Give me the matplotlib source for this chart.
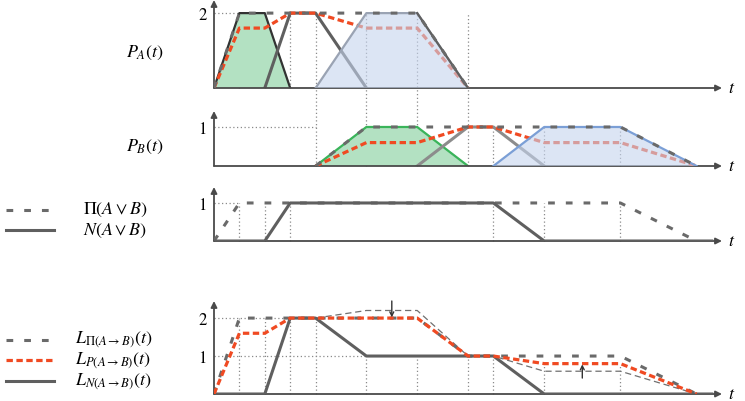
import matplotlib
matplotlib.use("Agg")
import matplotlib.pyplot as plt
from matplotlib.lines import Line2D

plt.rcParams['mathtext.fontset'] = 'stix'
plt.rcParams['font.family'] = 'STIXGeneral'

# ---- data (t, value) ----
# panel A : P_A(t)
a_green_t = [0, 1, 2, 3];   a_green_v = [0, 2, 2, 0]
a_mid_t = [2, 3, 4, 6];     a_mid_v = [0, 2, 2, 0]
a_blue_t = [4, 6, 8, 10];   a_blue_v = [0, 2, 2, 0]
a_pi_t = [0, 1, 8, 10];     a_pi_v = [0, 2, 2, 0]
a_p_t = [0, 1, 2, 3, 4, 6, 8, 10]
a_p_v = [0, 1.6, 1.6, 2, 2, 1.6, 1.6, 0]

# panel B : P_B(t)
b_green_t = [4, 6, 8, 10];   b_green_v = [0, 1, 1, 0]
b_mid_t = [8, 10, 11, 13];   b_mid_v = [0, 1, 1, 0]
b_blue_t = [11, 13, 16, 19]; b_blue_v = [0, 1, 1, 0]
b_pi_t = [4, 6, 16, 19];     b_pi_v = [0, 1, 1, 0]
b_p_t = [4, 6, 8, 10, 11, 13, 16, 19]
b_p_v = [0, 0.6, 0.6, 1, 1, 0.6, 0.6, 0]

# panel C : Pi(A v B), N(A v B)
c_pi_t = [0, 1, 16, 19];           c_pi_v = [0, 1, 1, 0]
c_n_t = [0, 2, 3, 11, 13, 19.6];   c_n_v = [0, 0, 1, 1, 0, 0]

# panel D : L(t)
d_n_t = [0, 2, 3, 4, 6, 11, 13, 19.6]
d_n_v = [0, 0, 2, 2, 1, 1, 0, 0]
d_p_t = [0, 1, 2, 3, 8, 10, 11, 13, 16, 19]
d_p_v = [0, 1.6, 1.6, 2, 2, 1, 1, 0.8, 0.8, 0]
d_pi_t = [0, 1, 8, 10, 16, 19]
d_pi_v = [0, 2, 2, 1, 1, 0]
d_thin_t = [4, 6, 8, 10, 11, 13, 16, 19]
d_thin_v = [2, 2.2, 2.2, 1, 1, 0.6, 0.6, 0]
arrow_down = (7, 2.45, 2.02)
arrow_up = (14.5, 0.42, 0.78)

# ---- styles ----
GRAY = '#5f5f5f'
RED = '#f04a22'
GREEN_F = '#b3e1c2'
BLUE_F = '#c5d4ee'
DOT = '#8a8a8a'
red_dash = dict(color=RED, lw=2.3, dashes=(2.0, 1.1))
pi_dash = dict(color='#6a6a6a', lw=2.2, dashes=(2.2, 3.6))

W, H = 745, 402
fig = plt.figure(figsize=(W / 100, H / 100), dpi=100)

x0, x1 = 214, 722
# baseline px, arrow tip px, ymax
panels = [(89, 1, 2.35), (167, 112, 1.41), (242, 188, 1.42), (395, 302, 2.45)]
axs = []
for base, tip, ymax in panels:
    ax = fig.add_axes([x0 / W, 1 - base / H, (x1 - x0) / W, (base - tip) / H])
    ax.set_xlim(0, 20)
    ax.set_ylim(0, ymax)
    for s in ax.spines.values():
        s.set_visible(False)
    ax.set_xticks([])
    ax.tick_params(axis='y', length=0, pad=5, labelsize=12)
    ax.patch.set_alpha(0)
    ax.annotate('', xy=(1, 0), xytext=(0, 0), xycoords='axes fraction',
                arrowprops=dict(arrowstyle='-|>', color='#4a4a4a', lw=1.3,
                                shrinkA=0, shrinkB=0, mutation_scale=9))
    ax.annotate('', xy=(0, 1), xytext=(0, 0), xycoords='axes fraction',
                arrowprops=dict(arrowstyle='-|>', color='#4a4a4a', lw=1.3,
                                shrinkA=0, shrinkB=0, mutation_scale=9))
    ax.text(1.012, 0, '$t$', transform=ax.transAxes, va='center', ha='left', fontsize=13)
    axs.append(ax)
axA, axB, axC, axD = axs

def vdots(ax, ts, lo, hi):
    for t in ts:
        ax.plot([t, t], [lo, hi], color=DOT, lw=0.9, ls=(0, (1, 2)), clip_on=False, zorder=0.5)

def hdot(ax, v, t1):
    ax.plot([0, t1], [v, v], color=DOT, lw=0.9, ls=(0, (1, 2)), zorder=0.5)

# ---- panel A ----
axA.set_yticks([2])
hdot(axA, 2, 1)
vdots(axA, [1, 2, 3], 0, 2)
vdots(axA, [4, 6, 8, 10], -(167 - 89) / 37.5, 2)
axA.fill(a_green_t, a_green_v, color=GREEN_F, zorder=1)
axA.plot(a_green_t, a_green_v, color='#333333', lw=1.6, zorder=2)
axA.plot(a_mid_t, a_mid_v, color=GRAY, lw=2.2, zorder=2)
axA.plot(a_p_t, a_p_v, zorder=3, **red_dash)
axA.fill(a_blue_t, a_blue_v, color=BLUE_F, alpha=0.6, lw=0, zorder=4)
axA.plot(a_blue_t, a_blue_v, color='#9aa3b3', lw=1.6, zorder=4)
axA.plot(a_pi_t, a_pi_v, zorder=5, **pi_dash)
axA.plot(a_blue_t[2:], a_blue_v[2:], color=GRAY, lw=1.6, zorder=4)

# ---- panel B ----
axB.set_yticks([1])
hdot(axB, 1, 4)
vdots(axB, [11, 13, 16], 0, 1)
axB.fill(b_green_t, b_green_v, color=GREEN_F, zorder=1)
axB.plot(b_green_t, b_green_v, color='#3ab45a', lw=1.6, zorder=2)
axB.plot(b_mid_t, b_mid_v, color='#8c8c8c', lw=2.2, zorder=2)
axB.plot(b_p_t, b_p_v, zorder=3, **red_dash)
axB.fill(b_blue_t, b_blue_v, color=BLUE_F, alpha=0.6, lw=0, zorder=4)
axB.plot(b_blue_t, b_blue_v, color='#7b9fd6', lw=1.6, zorder=4)
axB.plot(b_pi_t, b_pi_v, zorder=5, **pi_dash)

# ---- panel C ----
axC.set_yticks([1])
hdot(axC, 1, 1)
vdots(axC, [1, 2, 3, 11, 13, 16], 0, 1)
axC.plot(c_pi_t, c_pi_v, zorder=3, **pi_dash)
axC.plot(c_n_t, c_n_v, color=GRAY, lw=2.2, zorder=3)

# ---- panel D ----
axD.set_yticks([1, 2])
hdot(axD, 2, 3)
hdot(axD, 1, 6)
vdots(axD, [1, 2, 3, 4], 0, 2)
vdots(axD, [6, 8, 10, 11], 0, 1)
vdots(axD, [13, 16], 0, 0.8)
axD.plot(d_thin_t, d_thin_v, color='#707070', lw=0.9, dashes=(5, 3), zorder=2)
axD.plot(d_pi_t, d_pi_v, zorder=2, **pi_dash)
axD.plot(d_n_t, d_n_v, color=GRAY, lw=2.2, zorder=3)
axD.plot(d_p_t, d_p_v, zorder=4, **red_dash)
for t, ya, yb in [arrow_down, arrow_up]:
    axD.annotate('', xy=(t, yb), xytext=(t, ya),
                 arrowprops=dict(arrowstyle='->', color='#333333', lw=1.0,
                                 shrinkA=0, shrinkB=0, mutation_scale=7), zorder=6)

# ---- labels ----
def ftxt(px, py, s, **kw):
    fig.text(px / W, 1 - py / H, s, fontsize=13, va='center', **kw)

ftxt(145, 53, '$P_A(t)$', ha='center')
ftxt(145, 147, '$P_B(t)$', ha='center')

def leg_line(py, **kw):
    fig.add_artist(Line2D([6 / W, 54 / W], [1 - py / H, 1 - py / H], **kw))

leg_line(211, **pi_dash)
leg_line(231, color=GRAY, lw=2.2)
ftxt(83, 210, r'$\Pi(A \vee B)$', ha='left')
ftxt(83, 231, r'$N(A \vee B)$', ha='left')

leg_line(341, **pi_dash)
leg_line(361, **red_dash)
leg_line(382, color=GRAY, lw=2.2)
ftxt(75, 340, r'$L_{\Pi(A\rightarrow B)}(t)$', ha='left')
ftxt(75, 361, r'$L_{P(A\rightarrow B)}(t)$', ha='left')
ftxt(75, 382, r'$L_{N(A\rightarrow B)}(t)$', ha='left')

fig.savefig('out.png', dpi=100)
